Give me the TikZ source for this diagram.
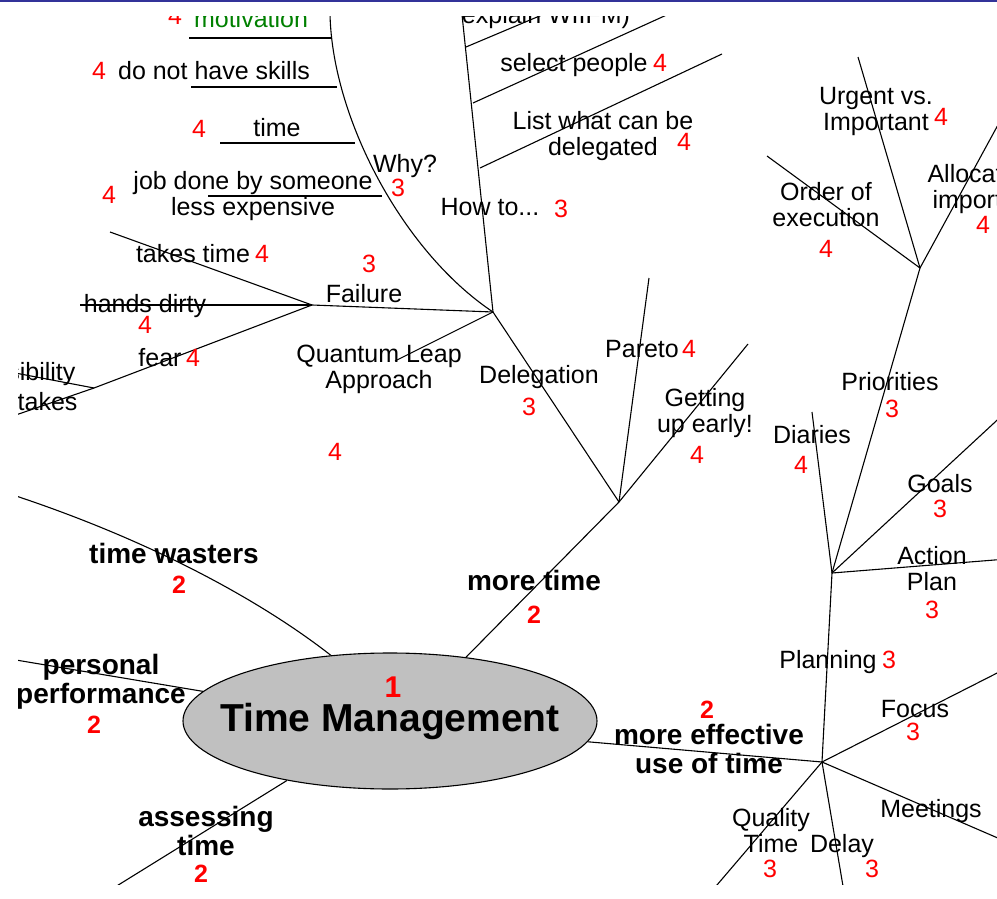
\documentclass[tikz,border=0pt]{standalone}
\usepackage{fontspec}
\setmainfont{Liberation Sans}
\usetikzlibrary{positioning,shapes.geometric}
\definecolor{barblue}{RGB}{51,51,153}
\definecolor{hubgray}{RGB}{192,192,192}
\definecolor{leafgreen}{RGB}{0,128,0}
\tikzset{
  topic/.style={font=\fontsize{25}{26}\selectfont,align=center,anchor=base,inner sep=0pt},
  branch/.style={font=\bfseries\fontsize{28}{29}\selectfont,align=center,anchor=base,inner sep=0pt},
  lvl/.style={text=red,font=\fontsize{25}{26}\selectfont,anchor=base,inner sep=0pt},
  lvlb/.style={lvl,font=\bfseries\fontsize{25}{26}\selectfont}
}

\begin{document}
\begin{tikzpicture}[x=1pt,y=-1pt,line width=1.1pt]
  \useasboundingbox (0,0) rectangle (997,899);
  \fill[barblue] (0,0) rectangle (997,2.5);
  \begin{scope}
  \clip (18,17) rectangle (997,884);
  % hub
  \node[ellipse,draw,fill=hubgray,minimum width=414,minimum height=136,inner sep=0pt,
    label={[font=\bfseries\fontsize{39}{40}\selectfont]center:Time Management}] (hub) at (390,721) {};
  \node[lvlb,font=\bfseries\fontsize{30}{30}\selectfont] (n1) at (393,697) {1};
  % junctions
  \coordinate (more) at (619,502);
  \coordinate (deleg) at (493,312);
  \coordinate (fail) at (312,305);
  \coordinate (fearj) at (94,388);
  \coordinate (eff) at (822,762);
  \coordinate (plan) at (832,573);
  \coordinate (prio) at (920,268);
  % points on the why and how lines
  \coordinate (whyA) at (332,38);
  \coordinate (whyB) at (337,87);
  \coordinate (whyC) at (355,143);
  \coordinate (whyD) at (382,196);
  \coordinate (howA) at (466,47);
  \coordinate (howB) at (473,103);
  \coordinate (howC) at (480,168);
  % free ends
  \coordinate (wastersE) at (10,494);
  \coordinate (personalE) at (10,659);
  \coordinate (assessE) at (107,892);
  \coordinate (whyE) at (330,5);
  \coordinate (howE) at (461,5);
  \coordinate (motivE) at (189,38);
  \coordinate (skillsE) at (191,87);
  \coordinate (timE) at (220,143);
  \coordinate (jobE) at (208,196);
  \coordinate (explE) at (549,12);
  \coordinate (selE) at (671,13);
  \coordinate (listE) at (722,54);
  \coordinate (quantE) at (395,361);
  \coordinate (ttimeE) at (110,232);
  \coordinate (handsE) at (80,305);
  \coordinate (respE) at (10,372);
  \coordinate (mistE) at (10,417);
  \coordinate (paretoE) at (649,278);
  \coordinate (getupE) at (748,344);
  \coordinate (diarE) at (812,412);
  \coordinate (goalsE) at (1007,411);
  \coordinate (actionE) at (1007,559);
  \coordinate (urgentE) at (858,57);
  \coordinate (orderE) at (767,156);
  \coordinate (allocE) at (1005,112);
  \coordinate (focusE) at (1007,668);
  \coordinate (meetE) at (1007,842);
  \coordinate (delayE) at (844,892);
  \coordinate (qualityE) at (711,892);
  % connectors
  \draw (hub.132) .. controls (260,600) and (150,540) .. (wastersE);
  \draw (hub.171) -- (personalE);
  \draw (hub.210) -- (assessE);
  \draw (hub.40) -- (more);
  \draw (hub.-6) -- (eff);
  \draw (more) -- (deleg);
  \draw (more) -- (paretoE);
  \draw (more) -- (getupE);
  \draw (deleg) .. controls (400,250) and (328,110) .. (whyE);
  \draw (deleg) -- (howE);
  \draw (deleg) -- (fail);
  \draw (deleg) -- (quantE);
  \draw (whyA) -- (motivE);
  \draw (whyB) -- (skillsE);
  \draw (whyC) -- (timE);
  \draw (whyD) -- (jobE);
  \draw (howA) -- (explE);
  \draw (howB) -- (selE);
  \draw (howC) -- (listE);
  \draw (fail) -- (ttimeE);
  \draw (fail) -- (handsE);
  \draw (fail) -- (fearj);
  \draw (fearj) -- (respE);
  \draw (fearj) -- (mistE);
  \draw (eff) -- (plan);
  \draw (eff) -- (focusE);
  \draw (eff) -- (meetE);
  \draw (eff) -- (delayE);
  \draw (eff) -- (qualityE);
  \draw (plan) -- (prio);
  \draw (plan) -- (diarE);
  \draw (plan) -- (goalsE);
  \draw (plan) -- (actionE);
  \draw (prio) -- (urgentE);
  \draw (prio) -- (orderE);
  \draw (prio) -- (allocE);
  % level 2
  \node[branch] (wasters) at (174,563) {time wasters};
  \node[lvlb] (n2a) at (179,593) {2};
  \node[branch] (personal) at (101,703) {personal\\performance};
  \node[lvlb] (n2b) at (94,733) {2};
  \node[branch] (assess) at (206,855) {assessing\\time};
  \node[lvlb] (n2c) at (201,882) {2};
  \node[branch] (moret) at (534,590) {more time};
  \node[lvlb] (n2d) at (534,623) {2};
  \node[branch] (effL) at (709,773) {more effective\\use of time};
  \node[lvlb] (n2e) at (707,718) {2};
  % level 3 and 4, left
  \node[topic,text=leafgreen] (motiv) at (251,28) {motivation};
  \node[lvl] (n4a) at (175,25) {4};
  \node[topic] (skills) at (214,80) {do not have skills};
  \node[lvl] (n4b) at (99,80) {4};
  \node[topic] (tim) at (277,136) {time};
  \node[lvl] (n4c) at (199,138) {4};
  \node[topic] (job) at (253,215) {job done by someone\\less expensive};
  \node[lvl] (n4d) at (109,203) {4};
  \node[topic] (why) at (405,172) {Why?};
  \node[lvl] (n3a) at (398,196) {3};
  \node[topic] (how) at (490,215) {How to...};
  \node[lvl] (n3b) at (561,217) {3};
  \node[topic] (expl) at (546,24) {explain WIIFM)};
  \node[topic] (sel) at (574,72) {select people};
  \node[lvl] (n4e) at (660,72) {4};
  \node[topic] (list) at (603,155) {List what can be\\delegated};
  \node[lvl] (n4f) at (684,150) {4};
  \node[topic] (failL) at (364,302) {Failure};
  \node[lvl] (n3c) at (369,272) {3};
  \node[topic] (ttime) at (193,262) {takes time};
  \node[lvl] (n4g) at (262,262) {4};
  \node[topic] (hands) at (145,312) {hands dirty};
  \node[lvl] (n4h) at (145,333) {4};
  \node[topic] (fearL) at (160,366) {fear};
  \node[lvl] (n4i) at (193,366) {4};
  \node[topic,anchor=base east] (resp) at (76,380) {responsibility};
  \node[topic,anchor=base east] (mist) at (78,410) {mistakes};
  \node[topic] (quant) at (379,388) {Quantum Leap\\Approach};
  \node[lvl] (n4j) at (335,460) {4};
  \node[topic] (delegL) at (539,383) {Delegation};
  \node[lvl] (n3d) at (529,415) {3};
  \node[topic] (pareto) at (642,357) {Pareto};
  \node[lvl] (n4k) at (689,357) {4};
  \node[topic] (getup) at (705,432) {Getting\\up early!};
  \node[lvl] (n4l) at (697,463) {4};
  % level 3 and 4, right
  \node[topic] (urgent) at (876,130) {Urgent vs.\\Important};
  \node[lvl] (n4m) at (941,125) {4};
  \node[topic] (order) at (826,226) {Order of\\execution};
  \node[lvl] (n4n) at (826,257) {4};
  \node[topic,align=left,anchor=base west] (alloc) at (927,208) {Allocate\\\hspace*{5pt}important};
  \node[lvl] (n4o) at (983,233) {4};
  \node[topic] (prioL) at (890,390) {Priorities};
  \node[lvl] (n3e) at (892,417) {3};
  \node[topic] (diar) at (812,443) {Diaries};
  \node[lvl] (n4p) at (801,473) {4};
  \node[topic] (goals) at (940,492) {Goals};
  \node[lvl] (n3f) at (940,517) {3};
  \node[topic] (action) at (932,590) {Action\\Plan};
  \node[lvl] (n3g) at (932,618) {3};
  \node[topic] (planL) at (828,668) {Planning};
  \node[lvl] (n3h) at (889,668) {3};
  \node[topic] (focus) at (915,717) {Focus};
  \node[lvl] (n3i) at (913,740) {3};
  \node[topic] (meet) at (931,817) {Meetings};
  \node[topic] (quality) at (771,852) {Quality\\Time};
  \node[lvl] (n3j) at (770,877) {3};
  \node[topic] (delay) at (842,852) {Delay};
  \node[lvl] (n3k) at (872,877) {3};
  \end{scope}
\end{tikzpicture}
\end{document}
